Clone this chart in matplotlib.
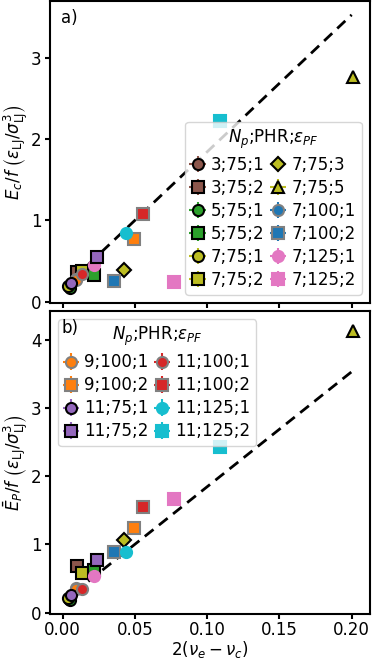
import matplotlib
matplotlib.use("Agg")
import matplotlib.pyplot as plt

plt.rcParams['font.family'] = ['DejaVu Sans']
plt.rcParams['font.size'] = 12
plt.rcParams['mathtext.fontset'] = 'dejavusans'

labels = ["3;75;1", "3;75;2", "5;75;1", "5;75;2", "7;75;1", "7;75;2", "7;75;3", "7;75;5",
          "7;100;1", "7;100;2", "7;125;1", "7;125;2",
          "9;100;1", "9;100;2", "11;75;1", "11;75;2", "11;100;1", "11;100;2", "11;125;1", "11;125;2"]
colors = ["tab:brown", "tab:brown", "tab:green", "tab:green", "tab:olive", "tab:olive", "tab:olive", "tab:olive",
          "tab:blue", "tab:blue", "tab:pink", "tab:pink",
          "tab:orange", "tab:orange", "tab:purple", "tab:purple", "tab:red", "tab:red", "tab:cyan", "tab:cyan"]
markers = ["o", "s", "o", "s", "o", "s", "D", "^",
           "o", "s", "o", "s",
           "o", "s", "o", "s", "o", "s", "o", "s"]
edges = ["black", "black", "black", "black", "black", "black", "black", "black",
         "grey", "grey", "tab:pink", "tab:pink",
         "grey", "grey", "black", "black", "grey", "grey", "tab:cyan", "tab:cyan"]

# x: 2(nu_e - nu_c)
x_vals = [0.0045, 0.0101, 0.0048, 0.0219, 0.0040, 0.0131, 0.0426, 0.2007,
          0.0095, 0.0357, 0.0220, 0.0772,
          0.0095, 0.0493, 0.0060, 0.0237, 0.0132, 0.0558, 0.0436, 0.1089]
# top panel: E_c / f
ec_vals = [0.19, 0.37, 0.17, 0.335, 0.19, 0.38, 0.395, 2.76,
           0.28, 0.25, 0.45, 0.24,
           0.27, 0.77, 0.235, 0.556, 0.345, 1.085, 0.85, 2.22]
# bottom panel: bar E_P / f
ep_vals = [0.20, 0.68, 0.19, 0.62, 0.21, 0.575, 1.07, 4.12,
           0.36, 0.89, 0.53, 1.665,
           0.35, 1.24, 0.26, 0.775, 0.345, 1.545, 0.895, 2.43]
x_err = [0.0004, 0.0004, 0.0004, 0.0004, 0.0004, 0.0004, 0.0004, 0.001,
         0.0004, 0.0004, 0.0004, 0.0004,
         0.0004, 0.0004, 0.0004, 0.0004, 0.0004, 0.0004, 0.0004, 0.0004]
ec_err = [0.02, 0.02, 0.02, 0.02, 0.02, 0.02, 0.02, 0.06,
          0.02, 0.02, 0.03, 0.06,
          0.02, 0.03, 0.02, 0.02, 0.02, 0.06, 0.02, 0.06]
ep_err = [0.02, 0.02, 0.02, 0.02, 0.02, 0.02, 0.02, 0.06,
          0.02, 0.02, 0.03, 0.04,
          0.02, 0.03, 0.02, 0.02, 0.02, 0.04, 0.02, 0.06]

fit_x = [0.0177, 0.2]
fit_intercept = 0.16
fit_slope = 16.85

W, H = 372, 660
fig = plt.figure(figsize=(W / 100, H / 100), dpi=100)
L, R = 50, 370
ax1 = fig.add_axes([L / W, (H - 303) / H, (R - L) / W, (303 - 1) / H])
ax2 = fig.add_axes([L / W, (H - 614) / H, (R - L) / W, (614 - 311) / H])

fit_y = [fit_intercept + fit_slope * v for v in fit_x]
handles = []
for ax, yv, ye in [(ax1, ec_vals, ec_err), (ax2, ep_vals, ep_err)]:
    hs = []
    for i in range(len(labels)):
        h = ax.errorbar(x_vals[i], yv[i], xerr=x_err[i], yerr=ye[i], fmt=markers[i],
                        color=colors[i], ecolor=colors[i], mfc=colors[i], mec=edges[i],
                        ms=8 if markers[i] != 'D' else 7.5, mew=1.5, elinewidth=1.5, label=labels[i])
        hs.append(h)
    handles.append(hs)
    ax.plot(fit_x, fit_y, ls='--', color='black', lw=2, dashes=(4, 2.5), zorder=1.5)
    ax.set_xlim(-0.0088, 0.2127)
    for s in ax.spines.values():
        s.set_linewidth(1.5)
    ax.tick_params(width=1.5, length=3.5, pad=2.5, labelsize=12)
    ax.tick_params(axis='x', pad=1.5)
    ax.set_xticks([0.0, 0.05, 0.10, 0.15, 0.20])

ax1.set_ylim(-0.015, 3.7)
ax2.set_ylim(-0.02, 4.42)
ax1.set_yticks([0, 1, 2, 3])
ax2.set_yticks([0, 1, 2, 3, 4])
ax1.set_xticklabels([])
ax2.set_xticklabels(["0.00", "0.05", "0.10", "0.15", "0.20"])

ax1.set_ylabel(r"$E_c/f\;\left(\varepsilon_{\rm LJ}/\sigma_{\rm LJ}^3\right)$", fontsize=12, labelpad=1)
ax2.set_ylabel(r"$\bar{E}_P/f\;\left(\varepsilon_{\rm LJ}/\sigma_{\rm LJ}^3\right)$", fontsize=12, labelpad=1)
ax2.set_xlabel(r"$2(\nu_e - \nu_c)$", fontsize=12, labelpad=0)

title = r"$N_p$;PHR;$\varepsilon_{PF}$"
leg_kw = dict(ncol=2, fontsize=12, title_fontsize=12, handlelength=0.8, handletextpad=0.4,
              columnspacing=0.4, labelspacing=0.3, borderpad=0.35)
ax1.legend(handles[0][:12], labels[:12], loc='lower right', title=title, **leg_kw)
ax2.legend(handles[1][12:], labels[12:], loc='upper left', title=title, **leg_kw)

ax1.text(0.035, 0.972, "a)", transform=ax1.transAxes, va='top', ha='left', fontsize=12, zorder=10)
ax2.text(0.035, 0.972, "b)", transform=ax2.transAxes, va='top', ha='left', fontsize=12, zorder=10)

fig.savefig("out.png", dpi=100)
